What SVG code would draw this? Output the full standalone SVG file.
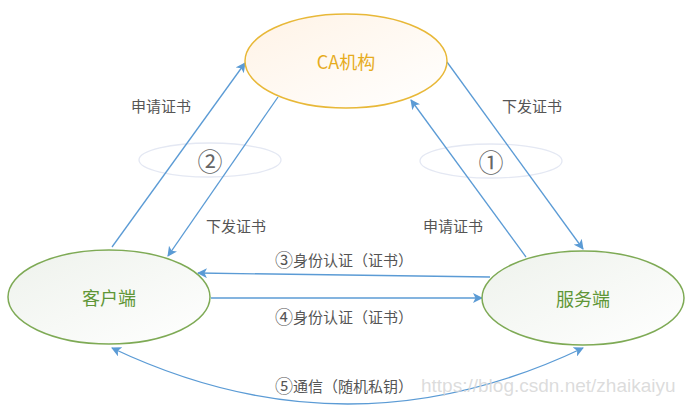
<svg xmlns="http://www.w3.org/2000/svg" width="692" height="410" viewBox="0 0 692 410">
  <style>
    .lbl { font-family: "Noto Sans CJK SC", "Liberation Sans", sans-serif; font-size: 15px; fill: #555555; text-anchor: middle; dominant-baseline: central; }
    .lbl tspan.c { font-size: 18px; }
    .num { font-family: "Noto Sans CJK SC", "DejaVu Sans", sans-serif; font-size: 25px; fill: #666666; text-anchor: middle; dominant-baseline: central; }
    .node-text { font-family: "Noto Sans CJK SC", "Liberation Sans", sans-serif; font-size: 18px; text-anchor: middle; dominant-baseline: central; }
    .conn { fill: none; stroke: #5b9bd5; stroke-width: 1.3; }
    .halo { fill: none; stroke: #e4e8f3; stroke-width: 1.3; }
  </style>
  <defs>
    <linearGradient id="gold" x1="0" y1="0" x2="1" y2="1">
      <stop offset="0" stop-color="#fff3e6"/>
      <stop offset="1" stop-color="#ffffff"/>
    </linearGradient>
    <linearGradient id="green" x1="0" y1="0" x2="1" y2="1">
      <stop offset="0" stop-color="#eef2ec"/>
      <stop offset="1" stop-color="#ffffff"/>
    </linearGradient>
    <marker id="arrow" viewBox="0 0 10 10" refX="9" refY="5" markerWidth="10" markerHeight="10" markerUnits="userSpaceOnUse" orient="auto-start-reverse">
      <path d="M0,0 L10,5 L0,10 L2.5,5 Z" fill="#5b9bd5"/>
    </marker>
  </defs>
  <rect width="692" height="410" fill="#ffffff"/>

  <!-- step markers -->
  <g id="step-1">
    <ellipse class="halo" cx="491" cy="161" rx="71" ry="17"/>
    <text class="num" x="491" y="161">①</text>
  </g>
  <g id="step-2">
    <ellipse class="halo" cx="210" cy="160" rx="71" ry="17"/>
    <text class="num" x="210" y="160">②</text>
  </g>

  <!-- connectors -->
  <g id="connectors">
    <line class="conn" x1="112" y1="247" x2="245" y2="63" marker-end="url(#arrow)"/>
    <line class="conn" x1="278" y1="97" x2="168" y2="256" marker-end="url(#arrow)"/>
    <line class="conn" x1="526" y1="257" x2="411" y2="100" marker-end="url(#arrow)"/>
    <line class="conn" x1="447" y1="62" x2="583" y2="249" marker-end="url(#arrow)"/>
    <line class="conn" x1="490" y1="277" x2="198" y2="273" marker-end="url(#arrow)"/>
    <line class="conn" x1="211" y1="298" x2="482" y2="298" marker-end="url(#arrow)"/>
    <path class="conn" d="M583,348 Q348,460 112,348" marker-start="url(#arrow)" marker-end="url(#arrow)"/>
  </g>

  <!-- connector labels -->
  <g id="labels">
    <text class="lbl" x="161" y="105">申请证书</text>
    <text class="lbl" x="532" y="105">下发证书</text>
    <text class="lbl" x="236" y="225">下发证书</text>
    <text class="lbl" x="453" y="225">申请证书</text>
    <text class="lbl" x="344" y="259"><tspan class="c">③</tspan>身份认证（证书）</text>
    <text class="lbl" x="344" y="316"><tspan class="c">④</tspan>身份认证（证书）</text>
    <text class="lbl" x="344" y="385"><tspan class="c">⑤</tspan>通信（随机私钥）</text>
  </g>

  <g id="ca">
    <ellipse cx="346" cy="61" rx="101" ry="47" fill="url(#gold)" stroke="#e8b838" stroke-width="1.5"/>
    <text class="node-text" x="346" y="61" fill="#e6ac1e">CA机构</text>
  </g>
  <g id="client">
    <ellipse cx="109" cy="297" rx="101" ry="47" fill="url(#green)" stroke="#7eaa55" stroke-width="1.5"/>
    <text class="node-text" x="109" y="297" fill="#5f9636">客户端</text>
  </g>
  <g id="server">
    <ellipse cx="583" cy="298" rx="101" ry="47" fill="url(#green)" stroke="#7eaa55" stroke-width="1.5"/>
    <text class="node-text" x="583" y="298" fill="#5f9636">服务端</text>
  </g>

  <text x="421" y="392" font-family="Liberation Sans, Arial, sans-serif" font-size="19" fill="#d6d6d6" fill-opacity="0.85">https://blog.csdn.net/zhaikaiyu</text>
</svg>
